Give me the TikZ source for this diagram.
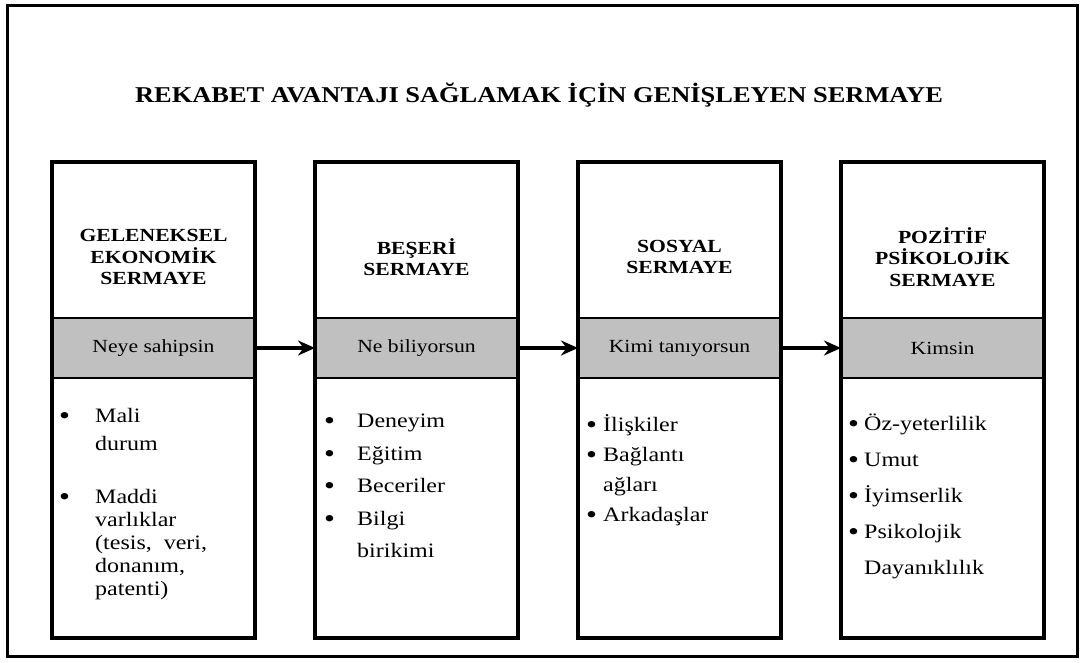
\documentclass[tikz,border=0pt]{standalone}
\usepackage{fontspec}
\setmainfont[FakeStretch=1.17]{Liberation Serif}
\usetikzlibrary{arrows.meta,positioning}

\definecolor{bandgray}{RGB}{192,192,192}
\newcommand{\bul}[1]{\makebox[#1][l]{\raisebox{-2pt}{\scalebox{1.3}{\textbullet}}}}
\newcommand{\ind}[1]{\makebox[#1]{}}

\begin{document}
\begin{tikzpicture}[x=1pt,y=-1pt,>={Stealth[length=17pt,width=15pt]},
    part/.style={draw,line width=1.8pt,minimum width=203pt,inner sep=0pt,outer sep=0pt},
    head/.style={part,minimum height=156pt},
    band/.style={part,fill=bandgray,minimum height=60pt,font=\fontsize{18.5}{18.5}\selectfont},
    body/.style={part,minimum height=260pt},
    htxt/.style={align=center,inner sep=0pt,font=\fontsize{18.5}{21.5}\selectfont\bfseries},
    items/.style={anchor=north west,align=left,inner sep=0pt},
    column/.style={draw,line width=3.6pt},
    flow/.style={->,line width=3.6pt}]

  \useasboundingbox (0,0) rectangle (1084,662);
  \draw[line width=3pt] (7,5) rectangle (1077,656);

  \node[font=\fontsize{22.6}{22.6}\selectfont\bfseries] (title) at (539,95)
    {REKABET AVANTAJI SAĞLAMAK İÇİN GENİŞLEYEN SERMAYE};

  % upper parts
  \node[head] (h1) at (153.5,240) {};
  \node[head] (h2) [right=60pt of h1] {};
  \node[head] (h3) [right=60pt of h2] {};
  \node[head] (h4) [right=60pt of h3] {};

  % gray bands
  \node[band] (b1) [below=0pt of h1] {Neye sahipsin};
  \node[band] (b2) [below=0pt of h2] {Ne biliyorsun};
  \node[band] (b3) [below=0pt of h3] {Kimi tanıyorsun};
  \node[band] (b4) [below=0pt of h4] {Kimsin};

  % lower parts
  \node[body] (l1) [below=0pt of b1] {};
  \node[body] (l2) [below=0pt of b2] {};
  \node[body] (l3) [below=0pt of b3] {};
  \node[body] (l4) [below=0pt of b4] {};

  \foreach \i in {1,...,4}
    \draw[column] (h\i.north west) rectangle (l\i.south east);

  % headings
  \node[htxt] (t1) at ([yshift=-17pt]h1.center) {GELENEKSEL\\EKONOMİK\\SERMAYE};
  \node[htxt] (t2) at ([yshift=-17pt]h2.center) {BEŞERİ\\SERMAYE};
  \node[htxt] (t3) at ([yshift=-17pt]h3.center) {SOSYAL\\SERMAYE};
  \node[htxt] (t4) at ([yshift=-17pt]h4.center) {POZİTİF\\PSİKOLOJİK\\SERMAYE};

  % bullet lists
  \node[items,font=\fontsize{20.5}{23}\selectfont] (i1) at ([xshift=7pt,yshift=-30pt]l1.north west)
    {\bul{36pt}Mali\\[5pt]
     \ind{36pt}durum\\[30pt]
     \bul{36pt}Maddi\\
     \ind{36pt}varlıklar\\
     \ind{36pt}(tesis,\ \ veri,\\
     \ind{36pt}donanım,\\
     \ind{36pt}patenti)};
  \node[items,font=\fontsize{20.5}{32.5}\selectfont] (i2) at ([xshift=9pt,yshift=-36pt]l2.north west)
    {\bul{33pt}Deneyim\\
     \bul{33pt}Eğitim\\
     \bul{33pt}Beceriler\\
     \bul{33pt}Bilgi\\
     \ind{33pt}birikimi};
  \node[items,font=\fontsize{20.5}{30}\selectfont] (i3) at ([xshift=8pt,yshift=-36pt]l3.north west)
    {\bul{17pt}İlişkiler\\
     \bul{17pt}Bağlantı\\
     \ind{17pt}ağları\\
     \bul{17pt}Arkadaşlar};
  \node[items,font=\fontsize{20.5}{36}\selectfont] (i4) at ([xshift=7pt,yshift=-36pt]l4.north west)
    {\bul{16pt}Öz-yeterlilik\\
     \bul{16pt}Umut\\
     \bul{16pt}İyimserlik\\
     \bul{16pt}Psikolojik\\
     \ind{16pt}Dayanıklılık};

  % arrows
  \draw[flow] (b1.east) -- (b2.west);
  \draw[flow] (b2.east) -- (b3.west);
  \draw[flow] (b3.east) -- (b4.west);
\end{tikzpicture}
\end{document}
